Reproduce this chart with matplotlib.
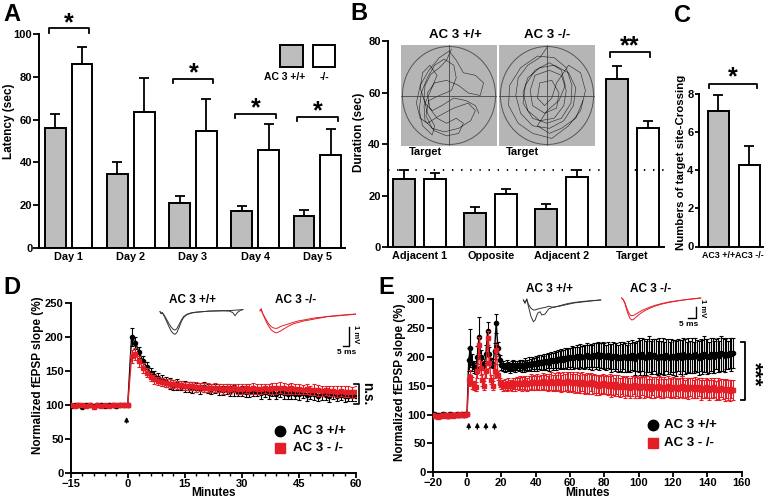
import numpy as np
import matplotlib
matplotlib.use("Agg")
import matplotlib.pyplot as plt
from matplotlib.patches import Circle, Rectangle
from matplotlib.lines import Line2D
from matplotlib.ticker import MultipleLocator

plt.rcParams["font.family"] = ["Liberation Sans", "DejaVu Sans"]
plt.rcParams["font.weight"] = "bold"
plt.rcParams["axes.labelweight"] = "bold"

GRAY = "#bdbdbd"
RED = "#e41e26"
MAZE = "#b5b5b5"

# ---------------- data ----------------
# A: escape latency
days = ["Day 1", "Day 2", "Day 3", "Day 4", "Day 5"]
a_wt = [56.2, 34.5, 21.1, 17.5, 14.8]
a_wt_err = [6.2, 5.7, 3.1, 2.3, 3.1]
a_ko = [85.8, 63.5, 54.6, 45.7, 43.5]
a_ko_err = [8.0, 16.0, 14.8, 12.2, 12.0]
a_sig = [0, 2, 3, 4]
a_sig_level = [102.7, 79.0, 62.6, 61.4]

# B: probe trial quadrant duration
quadrants = ["Adjacent 1", "Opposite", "Adjacent 2", "Target"]
b_wt = [26.6, 13.1, 14.7, 65.2]
b_wt_err = [3.4, 2.3, 2.0, 5.1]
b_ko = [26.3, 20.4, 27.0, 46.2]
b_ko_err = [2.5, 2.0, 3.0, 2.8]
b_chance = 30

# B insets: swim tracks (normalized pool coordinates)
wt_track = [(0.05, 0.92), (-0.05, 0.7), (-0.2, 0.55), (-0.38, 0.42), (-0.5, 0.2), (-0.52, -0.05),
            (-0.45, -0.35), (-0.3, -0.6), (-0.35, -0.78), (-0.55, -0.6), (-0.62, -0.3), (-0.58, 0.05),
            (-0.45, 0.35), (-0.3, 0.6), (-0.1, 0.72), (0.1, 0.6), (0.15, 0.35), (0.05, 0.1),
            (-0.2, 0.0), (-0.42, -0.1), (-0.48, -0.4), (-0.35, -0.65), (-0.1, -0.72), (0.2, -0.65),
            (0.45, -0.5), (0.55, -0.3), (0.4, -0.15), (0.1, -0.25), (-0.2, -0.4), (-0.45, -0.55),
            (-0.6, -0.45), (-0.68, -0.15), (-0.6, 0.2), (-0.42, 0.5), (-0.2, 0.75), (0.0, 0.88),
            (0.15, 0.7), (0.3, 0.45), (0.55, 0.4), (0.72, 0.25), (0.65, 0.0), (0.4, 0.05),
            (0.2, 0.2), (-0.05, 0.3), (-0.3, 0.25), (-0.45, 0.05), (-0.4, -0.25), (-0.25, -0.45),
            (-0.05, -0.55), (0.15, -0.45), (0.3, -0.55), (0.2, -0.75), (-0.05, -0.8), (-0.3, -0.7),
            (-0.5, -0.5), (-0.52, -0.2), (-0.38, 0.1), (-0.25, 0.4), (-0.4, 0.6), (-0.55, 0.45),
            (-0.6, 0.15), (-0.5, -0.15), (-0.35, -0.3), (-0.15, -0.2), (0.1, -0.05), (0.35, -0.1),
            (0.55, -0.2), (0.62, -0.35)]
ko_track = [(0.0, 0.95), (-0.15, 0.75), (-0.4, 0.6), (-0.6, 0.35), (-0.65, 0.0), (-0.55, -0.35),
            (-0.3, -0.6), (0.05, -0.65), (0.35, -0.5), (0.55, -0.2), (0.6, 0.15), (0.45, 0.45),
            (0.15, 0.6), (-0.15, 0.55), (-0.4, 0.35), (-0.5, 0.05), (-0.4, -0.3), (-0.15, -0.5),
            (0.15, -0.45), (0.35, -0.2), (0.4, 0.1), (0.3, 0.4), (0.05, 0.5), (-0.25, 0.4),
            (-0.35, 0.1), (-0.3, -0.2), (-0.05, -0.35), (0.2, -0.25), (0.25, 0.05), (0.1, 0.3),
            (-0.15, 0.25), (-0.2, -0.05), (-0.05, -0.2), (0.1, -0.05), (0.2, 0.25), (0.45, 0.6),
            (0.7, 0.45), (0.8, 0.1), (0.7, -0.3), (0.45, -0.6), (0.1, -0.85), (-0.3, -0.75),
            (-0.6, -0.55), (-0.8, -0.2), (-0.78, 0.2), (-0.55, 0.55), (-0.2, 0.78), (0.15, 0.75),
            (0.4, 0.55), (0.52, 0.2), (0.5, -0.15), (0.3, -0.45), (0.0, -0.55), (-0.3, -0.45),
            (-0.5, -0.15), (-0.45, 0.2), (-0.25, 0.5), (0.05, 0.65), (0.3, 0.5), (0.38, 0.2),
            (0.25, -0.1), (0.0, -0.3), (-0.2, -0.6), (0.05, -0.75), (0.3, -0.65), (0.6, -0.45),
            (0.75, -0.1)]

# C: target crossings
c_groups = ["AC3 +/+", "AC3 -/-"]
c_vals = [7.1, 4.3]
c_err = [0.85, 1.0]

# D: LTP, single tetanus
d_time = np.arange(-15, 61)
d_wt = [99, 100, 101, 98, 100, 101, 99, 100, 100, 99, 101, 100, 99, 101, 100, 101,
        200, 192, 178, 165, 156, 148, 143, 140, 137, 134,
        132, 130, 131, 129, 128, 127, 126, 126, 125, 127,
        125, 124, 125, 123, 122, 124, 121, 122, 120, 121,
        120, 119, 121, 120, 118, 119, 118, 120, 117, 119,
        118, 116, 118, 117, 116, 118, 115, 117, 116, 114,
        116, 115, 113, 116, 114, 115, 113, 114, 115, 114]
d_wt_err = [3, 2, 3, 2, 3, 2, 3, 2, 3, 2, 3, 2, 3, 2, 3, 3,
            13, 9, 8, 7, 7, 7, 7, 7, 8, 7,
            8, 7, 8, 7, 8, 7, 8, 7, 8, 8,
            7, 8, 7, 8, 7, 8, 7, 8, 7, 8,
            8, 7, 8, 7, 8, 7, 8, 7, 8, 7,
            8, 7, 8, 7, 8, 7, 8, 7, 8, 7,
            8, 7, 8, 7, 8, 7, 8, 7, 8, 7]
d_ko = [100, 99, 101, 100, 99, 100, 98, 100, 99, 100, 99, 101, 100, 100, 101, 101,
        172, 175, 165, 155, 148, 142, 138, 136, 134, 133,
        132, 131, 130, 130, 129, 128, 128, 127, 127, 126,
        126, 125, 126, 125, 124, 125, 124, 125, 124, 124,
        125, 124, 125, 124, 124, 125, 124, 125, 125, 126,
        125, 124, 125, 124, 124, 123, 124, 122, 123, 122,
        121, 122, 121, 121, 120, 121, 120, 120, 119, 120]
d_ko_err = [3, 3, 2, 3, 3, 2, 3, 3, 2, 3, 3, 2, 3, 3, 2, 3,
            10, 9, 8, 7, 7, 6, 6, 6, 6, 6,
            6, 6, 6, 6, 6, 6, 6, 7, 6, 7,
            7, 6, 7, 6, 7, 6, 7, 6, 7, 7,
            7, 7, 8, 7, 8, 7, 8, 8, 8, 8,
            8, 7, 8, 7, 8, 7, 8, 7, 8, 8,
            8, 7, 8, 7, 8, 7, 8, 8, 8, 8]

# E: LTP, four tetani
e_time = np.arange(-20, 156)
e_wt = [100, 101, 99, 100, 98, 100, 101, 99, 100, 97, 101, 100, 99, 100, 101, 100, 99, 101, 100, 101, 101,
        195, 215, 190, 182, 180, 200, 234, 200, 188, 185, 205, 245, 205, 190, 188, 210, 258, 215, 195, 185,
        184, 182, 185, 183, 181, 184, 186, 183, 185, 184,
        186, 184, 183, 187, 185, 188, 186, 189, 187, 190,
        188, 191, 190, 189, 192, 191, 193, 190, 194, 192,
        195, 193, 196, 194, 197, 195, 198, 196, 199, 197,
        200, 198, 199, 201, 198, 202, 200, 199, 201, 203,
        200, 202, 199, 203, 201, 204, 200, 202, 203, 201,
        199, 203, 200, 198, 202, 199, 201, 197, 200, 198,
        202, 199, 197, 201, 198, 203, 200, 196, 201, 203,
        199, 204, 200, 198, 202, 205, 199, 201, 203, 200,
        198, 202, 199, 201, 197, 203, 200, 198, 202, 199,
        201, 197, 203, 200, 198, 204, 201, 199, 203, 200,
        202, 199, 204, 201, 198, 203, 200, 205, 202, 201,
        199, 204, 202, 200, 205, 203, 201, 206, 204, 202,
        205, 203, 207, 204, 206]
e_wt_err = [3, 3, 2, 3, 3, 2, 3, 3, 2, 3, 3, 2, 3, 3, 2, 3, 3, 2, 3, 3, 3,
            20, 33, 15, 10, 10, 18, 35, 12, 8, 8, 15, 15, 12, 8, 8, 14, 16, 10, 8, 8,
            9, 8, 9, 8, 9, 8, 9, 9, 8, 9,
            9, 10, 9, 10, 10, 11, 10, 11, 11, 12,
            12, 12, 13, 12, 13, 14, 13, 14, 14, 15,
            15, 16, 15, 16, 17, 16, 17, 18, 17, 18,
            18, 19, 18, 20, 19, 20, 19, 21, 20, 21,
            21, 20, 22, 21, 22, 21, 23, 22, 22, 23,
            22, 23, 22, 24, 23, 24, 23, 24, 25, 24,
            24, 25, 24, 26, 25, 26, 25, 27, 26, 30,
            30, 29, 31, 30, 28, 31, 29, 30, 28, 30,
            29, 30, 28, 31, 29, 27, 30, 28, 29, 30,
            28, 30, 27, 29, 31, 28, 30, 27, 29, 28,
            30, 27, 29, 28, 30, 27, 29, 31, 28, 30,
            27, 29, 30, 28, 26, 29, 27, 30, 28, 29,
            27, 25, 26, 28, 26]
e_ko = [99, 98, 97, 96, 97, 98, 99, 100, 98, 97, 99, 100, 98, 100, 99, 100, 101, 100, 99, 100, 101,
        160, 165, 155, 150, 148, 175, 220, 180, 160, 150, 175, 232, 190, 160, 150, 175, 212, 168, 155, 152,
        150, 152, 149, 153, 151, 150, 154, 152, 155, 153,
        155, 153, 156, 154, 152, 155, 157, 154, 156, 155,
        157, 154, 156, 158, 155, 157, 154, 156, 158, 155,
        157, 155, 158, 156, 154, 157, 155, 158, 156, 157,
        155, 157, 154, 156, 153, 155, 157, 154, 152, 155,
        153, 156, 152, 154, 151, 153, 150, 152, 154, 151,
        152, 150, 153, 149, 151, 148, 152, 150, 147, 151,
        149, 147, 150, 148, 146, 149, 151, 147, 149, 146,
        148, 150, 147, 149, 146, 148, 145, 149, 147, 148,
        146, 149, 147, 145, 148, 146, 149, 147, 145, 148,
        146, 148, 145, 147, 149, 146, 144, 147, 145, 148,
        146, 144, 147, 145, 148, 143, 146, 144, 147, 145,
        143, 146, 144, 147, 142, 145, 143, 146, 144, 142,
        145, 143, 141, 144, 143]
e_ko_err = [3, 3, 3, 3, 3, 3, 3, 3, 3, 3, 3, 3, 3, 3, 3, 3, 3, 3, 3, 3, 3,
            10, 12, 10, 8, 8, 12, 15, 12, 10, 8, 12, 12, 10, 8, 8, 12, 10, 8, 8, 8,
            9, 10, 9, 10, 9, 10, 10, 11, 10, 11,
            11, 12, 11, 12, 11, 12, 13, 12, 13, 12,
            13, 12, 13, 14, 13, 14, 13, 14, 15, 14,
            15, 14, 15, 16, 15, 16, 15, 16, 17, 16,
            16, 17, 16, 17, 16, 17, 16, 17, 16, 17,
            17, 16, 17, 16, 17, 16, 17, 16, 17, 16,
            17, 16, 17, 18, 17, 16, 17, 18, 17, 16,
            17, 18, 17, 16, 18, 17, 16, 18, 17, 18,
            17, 16, 18, 17, 16, 18, 17, 16, 18, 17,
            16, 17, 18, 16, 17, 16, 18, 17, 16, 17,
            18, 16, 17, 16, 18, 17, 16, 17, 18, 16,
            17, 16, 18, 17, 16, 17, 18, 16, 17, 16,
            17, 18, 16, 17, 16, 18, 17, 16, 17, 18,
            16, 17, 18, 16, 17]
e_tetani = [1, 6, 11, 16]

# fEPSP example traces (ms, mV)
d_wt_ms = [0, 1, 2, 4, 6, 8, 10, 12, 13.5, 15, 17, 19, 21, 24, 28, 32, 38, 44, 50, 56, 62, 65, 67, 69, 72, 74]
d_wt_mv1 = [0, -0.1, -0.05, -0.27, -0.54, -0.81, -1.05, -1.19, -1.22, -1.13, -0.86, -0.54, -0.32,
            -0.16, -0.08, -0.03, 0.0, 0.03, 0.04, 0.05, 0.06, 0.07, 0.08, 0.09, 0.1, 0.11]
d_wt_mv2 = [0, -0.1, -0.05, -0.22, -0.43, -0.65, -0.84, -0.96, -0.99, -0.92, -0.7, -0.46, -0.27,
            -0.14, -0.06, -0.03, 0.0, 0.03, 0.04, 0.05, 0.03, -0.05, -0.22, -0.05, 0.08, 0.11]
d_ko_ms = [0, 1, 2, 4, 6, 8, 10, 12, 14, 15, 16, 18, 20, 23, 26, 30, 35, 40, 45, 50, 55, 60, 65, 70, 75, 80, 86]
d_ko_mv1 = [0, 0.1, -0.1, -0.38, -0.65, -0.86, -1.03, -1.13, -1.19, -1.19, -1.16, -1.11, -1.03, -0.92,
            -0.81, -0.7, -0.62, -0.54, -0.49, -0.43, -0.38, -0.32, -0.3, -0.27, -0.24, -0.22, -0.18]
d_ko_mv2 = [0, 0.1, -0.1, -0.32, -0.54, -0.73, -0.86, -0.93, -0.95, -0.95, -0.93, -0.86, -0.81, -0.76,
            -0.7, -0.62, -0.54, -0.49, -0.43, -0.38, -0.35, -0.31, -0.28, -0.25, -0.23, -0.2, -0.18]
e_wt_ms = [0, 1, 2, 3, 4.5, 6, 7, 8.5, 10, 11, 13, 15, 18, 22, 26, 30, 35, 40, 46]
e_wt_mv1 = [0, -0.25, 0.08, -0.5, -1.3, -1.74, -1.6, -1.05, -0.94, -1.2, -1.12, -0.72, -0.56, -0.48,
            -0.36, -0.24, -0.16, -0.08, 0.0]
e_wt_mv2 = [0, -0.25, 0.08, -0.35, -0.65, -0.8, -0.8, -0.72, -0.68, -0.64, -0.6, -0.5, -0.6, -0.44,
            -0.3, -0.2, -0.12, -0.06, 0.0]
e_ko_ms = [0, 1, 2, 3, 4, 5, 6, 7, 8, 9, 10, 12, 14, 17, 20, 24, 28, 33, 38, 43, 47]
e_ko_mv1 = [0, -0.15, -0.48, -0.96, -1.36, -1.64, -1.76, -1.72, -1.6, -1.48, -1.36, -1.16, -1.0, -0.8,
            -0.64, -0.48, -0.36, -0.24, -0.14, -0.06, 0.0]
e_ko_mv2 = [0, -0.15, -0.4, -0.8, -1.12, -1.36, -1.42, -1.4, -1.32, -1.24, -1.16, -1.0, -0.88, -0.72,
            -0.58, -0.44, -0.32, -0.22, -0.13, -0.06, 0.0]

# ---------------- layout helpers (pixel coordinates, origin top-left) ----------------
W, H = 774, 500
fig = plt.figure(figsize=(W / 100, H / 100), dpi=100)


def axes_px(l, t, r, b):
    return fig.add_axes([l / W, 1 - b / H, (r - l) / W, (b - t) / H])


def ftext(x, y, s, **kw):
    kw.setdefault("ha", "center")
    kw.setdefault("va", "center")
    fig.text(x / W, 1 - y / H, s, **kw)


def fline(xs, ys, **kw):
    fig.add_artist(Line2D([x / W for x in xs], [1 - y / H for y in ys],
                          transform=fig.transFigure, **kw))


def style(ax):
    ax.spines[["top", "right"]].set_visible(False)
    ax.spines[["left", "bottom"]].set_linewidth(1.4)
    ax.tick_params(width=1.3, length=4, labelsize=8, pad=1)


def bracket(ax, x0, x1, y, hook, label, ly, fs=18):
    ax.plot([x0, x0, x1, x1], [y - hook, y, y, y - hook], color="k", lw=1.3, clip_on=False)
    ax.text((x0 + x1) / 2, ly, label, ha="center", va="center", fontsize=fs,
            fontweight="bold", clip_on=False)


def grouped_bars(ax, x, wt, wt_err, ko, ko_err, off, w):
    z = np.zeros(len(wt))
    ax.bar(x - off, wt, w, color=GRAY, edgecolor="k", lw=1.4, zorder=2)
    ax.bar(x + off, ko, w, color="white", edgecolor="k", lw=1.4, zorder=1)
    for xx, vv, ee in ((x - off, wt, wt_err), (x + off, ko, ko_err)):
        ax.errorbar(xx, vv, yerr=[z, ee], fmt="none", ecolor="k", elinewidth=1.3,
                    capsize=3.5, capthick=1.3, zorder=3)


# ---------------- A ----------------
ax = axes_px(39.3, 34, 345, 248)
style(ax)
xa = np.arange(len(days))
grouped_bars(ax, xa, a_wt, a_wt_err, a_ko, a_ko_err, 0.217, 0.33)
ax.set_xlim(-0.474, 4.447)
ax.set_ylim(0, 100)
ax.set_yticks(range(0, 101, 20))
ax.set_xticks(xa, days, fontsize=7.8)
ax.tick_params(axis="x", length=0, pad=3)
ax.set_ylabel("Latency (sec)", fontsize=8.5)
ax.yaxis.set_label_coords(-0.08, 0.593)
for i, lvl in zip(a_sig, a_sig_level):
    bracket(ax, i - 0.32, i + 0.33, lvl, 2.0, "*", lvl + 2.5)
fig.add_artist(Rectangle((280 / W, 1 - 66.7 / H), 22.7 / W, 21.7 / H, transform=fig.transFigure,
                         facecolor=GRAY, edgecolor="k", lw=1.4))
fig.add_artist(Rectangle((313.3 / W, 1 - 66.7 / H), 21.7 / W, 21.7 / H, transform=fig.transFigure,
                         facecolor="white", edgecolor="k", lw=1.4))
ftext(284.5, 77, "AC 3 +/+", fontsize=7.5, fontweight="bold")
ftext(324, 77, "-/-", fontsize=7.5, fontweight="bold")

# ---------------- B ----------------
ax = axes_px(387.7, 41, 664.3, 247)
style(ax)
xb = np.arange(len(quadrants))
grouped_bars(ax, xb, b_wt, b_wt_err, b_ko, b_ko_err, 0.218, 0.31)
ax.axhline(b_chance, color="k", lw=1.4, dashes=(0.7, 4), zorder=1.5)
ax.set_xlim(-0.452, 3.448)
ax.set_ylim(0, 80)
ax.set_yticks(range(0, 81, 20))
ax.set_xticks(xb, quadrants, fontsize=7.8)
ax.tick_params(axis="x", length=0, pad=3)
ax.set_ylabel("Duration (sec)", fontsize=8.5)
ax.yaxis.set_label_coords(-0.082, 0.558)
bracket(ax, 3 - 0.32, 3 + 0.25, 75.7, 1.9, "**", 78.0)

# maze insets
for (l, r), track, title, tx in (((401, 497), wt_track, "AC 3 +/+", 455),
                                 ((499, 595), ko_track, "AC 3 -/-", 547)):
    m = axes_px(l, 45, r, 146)
    m.set_facecolor(MAZE)
    m.set_xlim(-1, 1)
    m.set_ylim(-1, 1)
    m.set_xticks([])
    m.set_yticks([])
    for s in m.spines.values():
        s.set_visible(False)
    m.add_patch(Circle((0, 0), 0.97, fill=False, edgecolor="#555555", lw=0.7))
    m.axhline(0, color="#555555", lw=0.7)
    m.axvline(0, color="#555555", lw=0.7)
    tr = np.array(track)
    m.plot(tr[:, 0], tr[:, 1], color="#333333", lw=0.45)
    ftext(tx, 35, title, fontsize=9.5, fontweight="bold")
    ftext(l + 24, 152.5, "Target", fontsize=8, fontweight="bold")

# ---------------- C ----------------
ax = axes_px(699, 94.3, 763, 246.5)
style(ax)
ax.tick_params(axis="y", length=3, pad=1)
xc = np.arange(len(c_groups))
ax.bar(xc, c_vals, 0.68, color=[GRAY, "white"], edgecolor="k", lw=1.4, zorder=2)
ax.errorbar(xc, c_vals, yerr=[np.zeros(2), c_err], fmt="none", ecolor="k", elinewidth=1.3,
            capsize=3.5, capthick=1.3, zorder=3)
ax.set_xlim(-0.62, 1.45)
ax.set_ylim(0, 8)
ax.set_yticks(range(0, 9, 2))
ax.set_xticks(xc, c_groups, fontsize=6.4)
ax.tick_params(axis="x", length=0, pad=3)
ax.set_ylabel("Numbers of target site-Crossing", fontsize=8.2)
ax.yaxis.set_label_coords(-0.2, 0.556)
bracket(ax, -0.31, 1.24, 8.54, 0.21, "*", 8.9)

# ---------------- D & E ----------------
def ltp(ax, t, wt, wt_err, ko, ko_err):
    ax.errorbar(t, wt, yerr=wt_err, fmt="-o", color="k", ms=3, lw=1, elinewidth=0.8,
                capsize=1.5, capthick=0.8, zorder=3)
    ax.errorbar(t, ko, yerr=ko_err, fmt="-s", color=RED, ms=2.8, lw=1, elinewidth=0.8,
                capsize=1.5, capthick=0.8, zorder=4)
    ax.tick_params(axis="x", length=3.5, pad=0.5)
    ax.set_xlabel("Minutes", fontsize=8.5)
    ax.set_ylabel("Normalized fEPSP slope (%)", fontsize=8.5)


def legend_manual(ax, x, y1, y2, tx):
    ax.plot([x], [y1], "o", color="k", ms=7.5, transform=ax.transAxes, clip_on=False)
    ax.plot([x], [y2], "s", color=RED, ms=7, transform=ax.transAxes, clip_on=False)
    ax.text(tx, y1, "AC 3 +/+", transform=ax.transAxes, fontsize=9.5, va="center")
    ax.text(tx, y2, "AC 3 - /-", transform=ax.transAxes, fontsize=9.5, va="center")


ax = axes_px(70.7, 303.3, 356, 473.3)
style(ax)
ltp(ax, d_time, d_wt, d_wt_err, d_ko, d_ko_err)
ax.set_xlim(-15, 60)
ax.set_ylim(0, 250)
ax.set_xticks(range(-15, 61, 15))
ax.set_yticks(range(0, 251, 50))
ax.xaxis.set_minor_locator(MultipleLocator(3))
ax.tick_params(which="minor", length=2.5, width=1)
ax.yaxis.set_label_coords(-0.092, 0.578)
ax.xaxis.set_label_coords(0.5, -0.082)
ax.annotate("", xy=(-0.3, 87), xytext=(-0.3, 70),
            arrowprops=dict(arrowstyle="-|>", color="k", lw=1, mutation_scale=6))
ax.plot([59.4, 60.9, 60.9, 59.4], [131, 131, 102, 102], color="k", lw=1.2, clip_on=False)
ax.text(62.8, 117, "n.s.", rotation=-90, fontsize=9.8, ha="center", va="center")
legend_manual(ax, 0.734, 0.25, 0.149, 0.778)

ax = axes_px(432.7, 299, 741.7, 472.3)
style(ax)
ltp(ax, e_time, e_wt, e_wt_err, e_ko, e_ko_err)
ax.set_xlim(-20, 160)
ax.set_ylim(0, 300)
ax.set_xticks(range(-20, 161, 20))
ax.set_yticks(range(0, 301, 50))
ax.yaxis.set_label_coords(-0.085, 0.518)
ax.xaxis.set_label_coords(0.5, -0.083)
for tt in e_tetani:
    ax.annotate("", xy=(tt, 91), xytext=(tt, 70),
                arrowprops=dict(arrowstyle="-|>", color="k", lw=1, mutation_scale=6))
ax.plot([159.6, 162.1, 162.1, 159.6], [226, 226, 125, 125], color="k", lw=1.3, clip_on=False)
ax.text(166.9, 170, "***", rotation=-90, fontsize=15, ha="center", va="center")
legend_manual(ax, 0.714, 0.273, 0.171, 0.747)

# fEPSP trace insets
for box, lim, tms, v1, v2, col in (
        ((158, 305, 246, 340), ((-1.8, 76.8), (-1.53, 0.36)), d_wt_ms, d_wt_mv1, d_wt_mv2, "#333333"),
        ((258, 305, 356, 340), ((-1.8, 85.7), (-1.58, 0.31)), d_ko_ms, d_ko_mv1, d_ko_mv2, RED),
        ((520, 294, 602, 326), ((-2.0, 46.8), (-2.08, 0.48)), e_wt_ms, e_wt_mv1, e_wt_mv2, "#333333"),
        ((618, 292, 704, 324), ((-2.2, 49.0), (-2.08, 0.48)), e_ko_ms, e_ko_mv1, e_ko_mv2, RED)):
    ins = axes_px(*box)
    ins.plot(tms, v1, color=col, lw=0.7)
    ins.plot(tms, v2, color=col, lw=0.7)
    ins.set_xlim(*lim[0])
    ins.set_ylim(*lim[1])
    ins.axis("off")

ftext(192.5, 300, "AC 3 +/+", fontsize=8.5, fontweight="bold")
ftext(296, 300, "AC 3 -/-", fontsize=8.5, fontweight="bold")
ftext(549, 289, "AC 3 +/+", fontsize=8.5, fontweight="bold")
ftext(651, 289, "AC 3 -/-", fontsize=8.5, fontweight="bold")

# scale bars
fline([343, 349, 349], [345.5, 345.5, 327], color="k", lw=1)
ftext(355, 334, "1 mV", rotation=-90, fontsize=5.5, fontweight="bold")
ftext(347, 352, "5 ms", fontsize=6, fontweight="bold")
fline([687.5, 696, 696], [318.3, 318.3, 306.5], color="k", lw=1)
ftext(702.5, 308.5, "1 mV", rotation=-90, fontsize=5.5, fontweight="bold")
ftext(689, 324, "5 ms", fontsize=6, fontweight="bold")

# panel letters
for letter, x, y in (("A", 11.7, 14.2), ("B", 359, 13.3), ("C", 682.5, 15),
                     ("D", 12, 287), ("E", 386, 287)):
    ftext(x, y, letter, fontsize=17, fontweight="bold")

fig.savefig("out.png", dpi=100)
